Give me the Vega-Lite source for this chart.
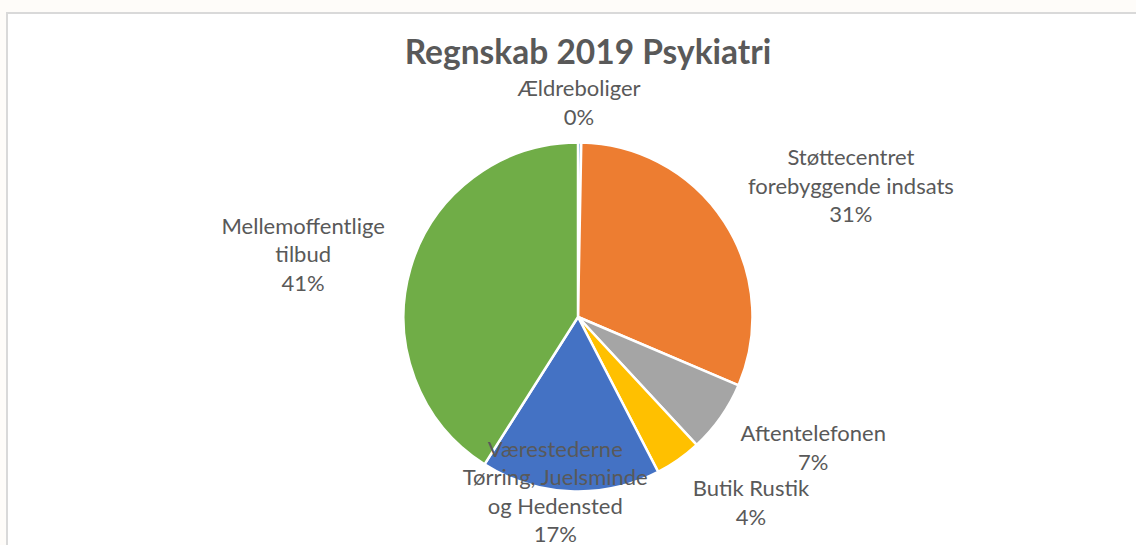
{
  "$schema": "https://vega.github.io/schema/vega-lite/v6.json",
  "width": 1142,
  "height": 608,
  "autosize": {"type": "none"},
  "padding": {"left": 7, "top": 13, "right": 0, "bottom": 0},
  "background": "#fefcf9",
  "view": {"fill": "white", "stroke": "#d9d9d9", "strokeWidth": 2},
  "config": {
    "font": "Lato"
  },
  "title": {
    "text": "Regnskab 2019 Psykiatri",
    "font": "Lato",
    "fontSize": 33.5,
    "fontWeight": "bold",
    "color": "#595959",
    "anchor": "middle",
    "dx": 10,
    "offset": -70
  },
  "data": {
    "values": [
      {"i": 1, "k": "Ældreboliger", "v": 0.3, "label": "Ældreboliger\n0%"},
      {"i": 2, "k": "Støttecentret forebyggende indsats", "v": 31.1, "label": "Støttecentret\nforebyggende indsats\n31%"},
      {"i": 3, "k": "Aftentelefonen", "v": 6.7, "label": "Aftentelefonen\n7%"},
      {"i": 4, "k": "Butik Rustik", "v": 4.3, "label": "Butik Rustik\n4%"},
      {"i": 5, "k": "Værestederne Tørring, Juelsminde og Hedensted", "v": 16.6, "label": "Værestederne\nTørring, Juelsminde\nog Hedensted\n17%"},
      {"i": 6, "k": "Mellemoffentlige tilbud", "v": 41.0, "label": "Mellemoffentlige\ntilbud\n41%"}
    ]
  },
  "encoding": {
    "theta": {"field": "v", "type": "quantitative", "stack": true},
    "order": {"field": "i", "type": "quantitative"}
  },
  "layer": [
    {
      "mark": {"type": "arc", "outerRadius": 174.5, "stroke": "white", "strokeWidth": 2.5},
      "encoding": {
        "color": {
          "field": "k",
          "type": "nominal",
          "legend": null,
          "scale": {
            "domain": ["Ældreboliger", "Støttecentret forebyggende indsats", "Aftentelefonen", "Butik Rustik", "Værestederne Tørring, Juelsminde og Hedensted", "Mellemoffentlige tilbud"],
            "range": ["#5b9bd5", "#ed7d31", "#a5a5a5", "#ffc000", "#4472c4", "#70ad47"]
          }
        }
      }
    },
    {
      "mark": {"type": "text", "radius": 214, "dx": -1, "dy": -14, "fontSize": 22, "lineHeight": 28.5, "lineBreak": "\n", "fill": "#595959", "align": "center", "baseline": "middle"},
      "encoding": {"text": {"condition": {"test": "datum.i == 1", "field": "label", "type": "nominal"}, "value": ""}}
    },
    {
      "mark": {"type": "text", "radius": 299, "dx": 22, "dy": 4, "fontSize": 22, "lineHeight": 28.5, "lineBreak": "\n", "fill": "#595959", "align": "center", "baseline": "middle"},
      "encoding": {"text": {"condition": {"test": "datum.i == 2", "field": "label", "type": "nominal"}, "value": ""}}
    },
    {
      "mark": {"type": "text", "radius": 268, "dx": 16, "dy": -37, "fontSize": 22, "lineHeight": 28.5, "lineBreak": "\n", "fill": "#595959", "align": "center", "baseline": "middle"},
      "encoding": {"text": {"condition": {"test": "datum.i == 3", "field": "label", "type": "nominal"}, "value": ""}}
    },
    {
      "mark": {"type": "text", "radius": 252, "dx": 28, "dy": -34, "fontSize": 22, "lineHeight": 28.5, "lineBreak": "\n", "fill": "#595959", "align": "center", "baseline": "middle"},
      "encoding": {"text": {"condition": {"test": "datum.i == 4", "field": "label", "type": "nominal"}, "value": ""}}
    },
    {
      "mark": {"type": "text", "radius": 176, "dx": -15, "dy": -43, "fontSize": 22, "lineHeight": 28.5, "lineBreak": "\n", "fill": "#595959", "align": "center", "baseline": "middle"},
      "encoding": {"text": {"condition": {"test": "datum.i == 5", "field": "label", "type": "nominal"}, "value": ""}}
    },
    {
      "mark": {"type": "text", "radius": 281, "dx": -5, "dy": -12, "fontSize": 22, "lineHeight": 28.5, "lineBreak": "\n", "fill": "#595959", "align": "center", "baseline": "middle"},
      "encoding": {"text": {"condition": {"test": "datum.i == 6", "field": "label", "type": "nominal"}, "value": ""}}
    }
  ]
}
